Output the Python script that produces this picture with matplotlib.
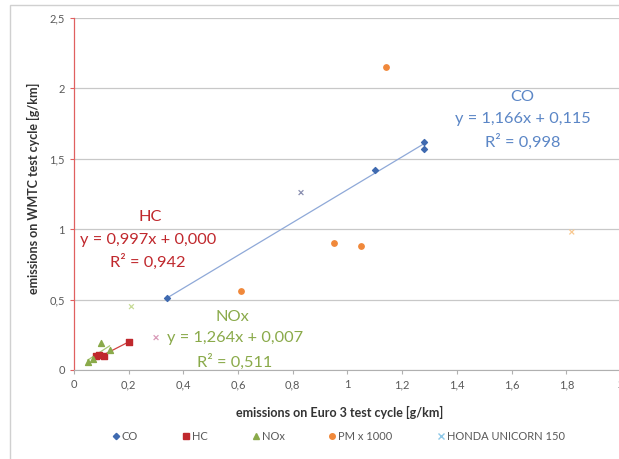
import matplotlib
matplotlib.use("Agg")
import matplotlib.pyplot as plt
from matplotlib.patches import Rectangle
from matplotlib.lines import Line2D
import numpy as np

plt.rcParams['font.family'] = ['Lato', 'DejaVu Sans']

# Data (emissions on Euro 3 cycle vs WMTC cycle, g/km)
co_x = [0.34, 1.10, 1.28, 1.28]
co_y = [0.51, 1.42, 1.62, 1.57]
hc_x = [0.08, 0.09, 0.11, 0.20]
hc_y = [0.10, 0.11, 0.10, 0.20]
nox_x = [0.05, 0.07, 0.10, 0.13]
nox_y = [0.06, 0.08, 0.19, 0.14]
pm_x = [0.61, 0.95, 1.05, 1.14]
pm_y = [0.56, 0.90, 0.88, 2.15]
honda_x = [0.83, 0.30, 0.21, 1.82]
honda_y = [1.26, 0.23, 0.45, 0.98]
honda_colors = ['#8a8fb0', '#d99ab8', '#c8dc98', '#f8c890']

co_fit = (1.166, 0.115)
hc_fit = (0.997, 0.000)
nox_fit = (1.264, 0.007)

xticks = [0, 0.2, 0.4, 0.6, 0.8, 1.0, 1.2, 1.4, 1.6, 1.8, 2.0]
yticks = [0, 0.5, 1.0, 1.5, 2.0, 2.5]

def fmt(v):
    return ('%g' % v).replace('.', ',')

fig = plt.figure(figsize=(6.19, 4.59), dpi=100)
# outer chart frame
fig.patches.append(Rectangle((10/619, -0.02), 1.0, 1 - 5/459 + 0.02, transform=fig.transFigure,
                             fill=False, edgecolor='#d0d0d0', linewidth=1.0))

ax = fig.add_axes([74/619, (459-370)/459, (621-74)/619, (370-18)/459])
ax.set_xlim(0, 2)
ax.set_ylim(0, 2.5)

CO_C = '#3f6ab0'
HC_C = '#c0282d'
NOX_C = '#8aaa4a'
PM_C = '#f0883a'

ax.set_yticks(yticks)
ax.set_xticks(xticks)
ax.set_xticklabels([fmt(v) for v in xticks])
ax.set_yticklabels([fmt(v) for v in yticks])
ax.grid(axis='y', color='#c8c8c8', linewidth=0.9)
ax.set_axisbelow(True)
for s in ['top', 'right']:
    ax.spines[s].set_visible(False)
ax.spines['left'].set_color('#e06060')
ax.spines['left'].set_linewidth(0.9)
ax.spines['bottom'].set_color('#b0b0b0')
ax.tick_params(axis='both', colors='#b0b0b0', labelcolor='#595959', labelsize=8, length=3)
ax.tick_params(axis='y', colors='#e06060', labelcolor='#595959')

# trendlines
for xs, fit, c in [(co_x, co_fit, '#8fa9d8'), (hc_x, hc_fit, '#d04040'), (nox_x, nox_fit, '#a8c878')]:
    xx = np.array([min(xs), max(xs)])
    ax.plot(xx, fit[0]*xx + fit[1], color=c, linewidth=0.9, zorder=2)

ax.scatter(co_x, co_y, marker='D', s=9, color=CO_C, zorder=3)
ax.scatter(hc_x, hc_y, marker='s', s=18, color=HC_C, zorder=3)
ax.scatter(nox_x, nox_y, marker='^', s=18, color=NOX_C, zorder=3)
ax.scatter(pm_x, pm_y, marker='o', s=15, color=PM_C, zorder=3)
ax.scatter(honda_x, honda_y, marker='x', s=12, c=honda_colors, linewidths=0.9, zorder=3)

# equation labels
fs = 11.8
ax.text(1.64, 1.94, 'CO', color='#5b86c6', fontsize=fs, ha='center', va='center')
ax.text(1.64, 1.78, 'y = 1,166x + 0,115', color='#5b86c6', fontsize=fs, ha='center', va='center')
ax.text(1.64, 1.62, 'R² = 0,998', color='#5b86c6', fontsize=fs, ha='center', va='center')
ax.text(0.278, 1.087, 'HC', color=HC_C, fontsize=fs, ha='center', va='center')
ax.text(0.27, 0.923, 'y = 0,997x + 0,000', color=HC_C, fontsize=fs, ha='center', va='center')
ax.text(0.27, 0.767, 'R² = 0,942', color=HC_C, fontsize=fs, ha='center', va='center')
ax.text(0.58, 0.376, 'NOx', color=NOX_C, fontsize=fs, ha='center', va='center')
ax.text(0.588, 0.227, 'y = 1,264x + 0,007', color=NOX_C, fontsize=fs, ha='center', va='center')
ax.text(0.588, 0.057, 'R² = 0,511', color=NOX_C, fontsize=fs, ha='center', va='center')

fig.text(33/619, 1 - 188/459, 'emissions on WMTC test cycle [g/km]', rotation=90, fontsize=9,
         fontweight='bold', color='#333333', ha='center', va='center')
fig.text(340/619, 1 - 412/459, 'emissions on Euro 3 test cycle [g/km]', fontsize=9,
         fontweight='bold', color='#333333', ha='center', va='center')

handles = [
    Line2D([], [], marker='D', linestyle='', color=CO_C, markersize=3.2),
    Line2D([], [], marker='s', linestyle='', color=HC_C, markersize=4.5),
    Line2D([], [], marker='^', linestyle='', color=NOX_C, markersize=4.5),
    Line2D([], [], marker='o', linestyle='', color=PM_C, markersize=4),
    Line2D([], [], marker='x', linestyle='', color='#8ec8e8', markersize=4),
]
labels = ['CO', 'HC', 'NOx', 'PM x 1000', 'HONDA UNICORN 150']
leg = fig.legend(handles, labels, loc='center', bbox_to_anchor=(338/619, 1 - 436/459), ncol=5,
                 frameon=False, fontsize=8, handletextpad=0.15, columnspacing=3.9, handlelength=0.8)
for t in leg.get_texts():
    t.set_color('#595959')

fig.savefig('out.png', dpi=100)
